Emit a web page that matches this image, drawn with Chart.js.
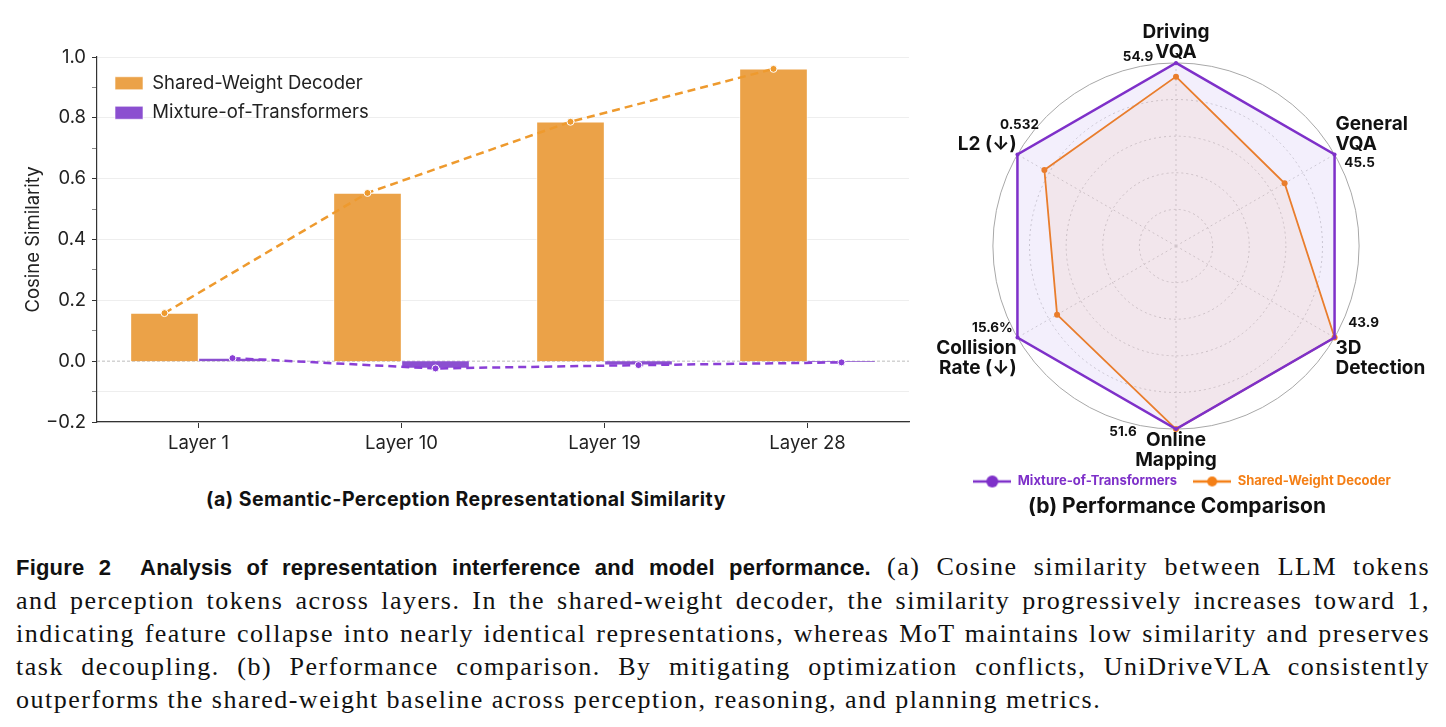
<!DOCTYPE html>
<html>
<head>
<meta charset="utf-8">
<script src="https://cdn.jsdelivr.net/npm/chart.js@4.4.0/dist/chart.umd.min.js"></script>
<style>
body { margin:0; background:#fff; width:1446px; height:727px; overflow:hidden; position:relative; font-family: Inter, sans-serif; color:#111; }
#barBox { position:absolute; left:0; top:0; }
#radarBox { position:absolute; left:927px; top:22px; }
.sub { position:absolute; font-weight:bold; white-space:nowrap; transform:translate(-50%, -50%); }
#caption { position:absolute; left:16px; top:550px; width:1414px; font-family:"Liberation Serif", serif; font-size:26px; letter-spacing:1.5px; line-height:33px; }
#caption div { text-align:justify; text-align-last:justify; white-space:nowrap; }
#caption div.last { text-align-last:left; }
#caption b { font-family:"Liberation Sans", sans-serif; font-size:22px; letter-spacing:0.2px; }
</style>
</head>
<body>
<div id="barBox"><canvas id="barChart" width="930" height="470"></canvas></div>
<div id="radarBox"><canvas id="radarChart" width="510" height="487"></canvas></div>
<div class="sub" style="left:466px; top:499px; font-size:19.5px; letter-spacing:0.5px;">(a) Semantic-Perception Representational Similarity</div>
<div class="sub" style="left:1177px; top:505px; font-size:21px;">(b) Performance Comparison</div>
<div id="caption">
<div><b>Figure 2&nbsp;&nbsp;Analysis of representation interference and model performance.</b> (a) Cosine similarity between LLM tokens</div>
<div>and perception tokens across layers. In the shared-weight decoder, the similarity progressively increases toward 1,</div>
<div>indicating feature collapse into nearly identical representations, whereas MoT maintains low similarity and preserves</div>
<div>task decoupling. (b) Performance comparison. By mitigating optimization conflicts, UniDriveVLA consistently</div>
<div class="last">outperforms the shared-weight baseline across perception, reasoning, and planning metrics.</div>
</div>
<script>
// ---- (a) cosine similarity per layer ----
var layerLabels = ['Layer 1', 'Layer 10', 'Layer 19', 'Layer 28'];
var sharedWeightSim = [0.158, 0.553, 0.787, 0.961];
var motSim = [0.010, -0.024, -0.013, -0.004];
var yMin = -0.2;
var yMax = 1.0;

// ---- (b) normalised radar scores ----
var radarAxes = [['Driving', 'VQA'], ['General', 'VQA'], ['3D', 'Detection'], ['Online', 'Mapping'], ['Collision', 'Rate (\u2193)'], 'L2 (\u2193)'];
var radarValueLabels = ['54.9', '45.5', '43.9', '51.6', '15.6%', '0.532'];
var motScore = [1, 1, 1, 1, 1, 1];
var sharedScore = [0.925, 0.685, 1.0, 1.0, 0.75, 0.83];

var orange = '#EBA248';
var orangeLine = '#EE9A2E';
var purple = '#8B4FD0';
var purpleLine = '#8A3FD6';
var chartFont = 'Inter, sans-serif';
var tickFont = { family: chartFont, size: 18.5 };

var groupPct = 0.67;
var barShift = groupPct / 4;   // centre of each bar inside its layer group, in layer units

// place a series at its slot inside each layer group
function shiftPoints(values, shift) {
    var pts = [];
    for (var i = 0; i < values.length; i++) {
        pts.push({x: i + shift, y: values[i]});
    }
    return pts;
}

var zeroLinePlugin = {
    id: 'zeroLine',
    beforeDatasetsDraw: function(chart) {
        var ctx = chart.ctx;
        var area = chart.chartArea;
        var y = chart.scales.y.getPixelForValue(0);
        ctx.save();
        ctx.strokeStyle = '#bdbdbd';
        ctx.lineWidth = 1;
        ctx.setLineDash([3, 2]);
        ctx.beginPath();
        ctx.moveTo(area.left, y);
        ctx.lineTo(area.right, y);
        ctx.stroke();
        ctx.restore();
    }
};

// put the legend inside the top-left corner of the plot
var legendInside = {
    id: 'legendInside',
    afterLayout: function(chart) {
        chart.legend.left = chart.chartArea.left + 7;
        chart.legend.top = chart.chartArea.top + 6;
    }
};

function isMajor(v) {
    return Math.abs(Math.round(v * 10) % 2) === 0;
}

function barSet(label, values, shift, color) {
    return {
        label: label,
        data: shiftPoints(values, shift),
        xAxisID: 'xl',
        grouped: false,
        backgroundColor: color,
        borderColor: 'rgba(255,255,255,0.6)',
        borderWidth: 1,
        categoryPercentage: 1.0,
        barPercentage: 1.0,
        order: 2
    };
}

function trendSet(label, values, shift, color) {
    return {
        type: 'line',
        label: label,
        data: shiftPoints(values, shift),
        xAxisID: 'xl',
        borderColor: color,
        borderWidth: 2.5,
        borderDash: [8, 5],
        pointRadius: 3.5,
        pointBackgroundColor: color,
        pointBorderColor: '#fff',
        pointBorderWidth: 1,
        fill: false,
        order: 1
    };
}

new Chart(document.getElementById('barChart'), {
    type: 'bar',
    data: {
        labels: layerLabels,
        datasets: [
            barSet('Shared-Weight Decoder', sharedWeightSim, -barShift, orange),
            barSet('Mixture-of-Transformers', motSim, barShift, purple),
            trendSet('sw-trend', sharedWeightSim, -barShift, orangeLine),
            trendSet('mot-trend', motSim, barShift, purpleLine)
        ]
    },
    options: {
        responsive: false,
        animation: false,
        layout: { padding: { left: 0, top: 57, right: 21, bottom: 0 } },
        plugins: {
            legend: {
                position: 'chartArea',
                align: 'start',
                labels: {
                    boxWidth: 28,
                    boxHeight: 13,
                    padding: 11,
                    color: '#222',
                    font: { family: chartFont, size: 18.5 },
                    filter: function(item) { return item.datasetIndex < 2; }
                }
            },
            tooltip: { enabled: false }
        },
        scales: {
            x: {
                type: 'category',
                offset: true,
                grid: { offset: false, drawOnChartArea: false, tickLength: 6, tickColor: '#333' },
                border: { color: '#333', width: 1.2 },
                ticks: { color: '#222', font: tickFont, padding: 4 },
                afterFit: function(scale) { scale.height = 48; }
            },
            xl: {
                type: 'linear',
                display: false,
                offset: false,
                min: -0.5,
                max: layerLabels.length - 0.5
            },
            y: {
                min: yMin,
                max: yMax,
                ticks: {
                    stepSize: 0.1,
                    color: '#222',
                    font: tickFont,
                    padding: 6,
                    autoSkip: false,
                    callback: function(v) {
                        if (!isMajor(v)) return '';
                        var r = Math.round(v * 10) / 10;
                        if (r === 0) return '0.0';
                        return r.toFixed(1).replace('-', '\u2212');
                    }
                },
                grid: {
                    color: function(c) {
                        var v = Math.round(c.tick.value * 10) / 10;
                        if (v === 0) return 'rgba(0,0,0,0)';
                        if (isMajor(v) || v === -0.1) return '#eeeeee';
                        return 'rgba(0,0,0,0)';
                    },
                    tickColor: function(c) {
                        return isMajor(c.tick.value) ? '#333' : '#888';
                    },
                    tickLength: 5
                },
                border: { color: '#333', width: 1.2 },
                title: {
                    display: true,
                    text: 'Cosine Similarity',
                    color: '#222',
                    font: { family: chartFont, size: 18.5 },
                    padding: { top: 22, bottom: 0 }
                },
                afterFit: function(scale) { scale.width = 97; }
            }
        }
    },
    plugins: [zeroLinePlugin, legendInside]
});

// ---------- radar ----------
function legendMarker(color, dot) {
    var c = document.createElement('canvas');
    c.width = 38;
    c.height = 14;
    var g = c.getContext('2d');
    g.strokeStyle = color;
    g.lineWidth = 2.5;
    g.beginPath();
    g.moveTo(0, 7);
    g.lineTo(38, 7);
    g.stroke();
    g.fillStyle = color;
    g.beginPath();
    g.arc(19, 7, dot, 0, Math.PI * 2);
    g.fill();
    return c;
}

var radarValuePlugin = {
    id: 'radarValues',
    afterDatasetsDraw: function(chart) {
        var scale = chart.scales.r;
        var ctx = chart.ctx;
        var offsets = [[-38, -6], [25, 8], [29, -15], [-53, 3], [-25, -10], [2, -30]];
        ctx.save();
        ctx.font = 'bold 13.5px ' + chartFont;
        ctx.fillStyle = '#111';
        ctx.textAlign = 'center';
        ctx.textBaseline = 'middle';
        for (var i = 0; i < radarValueLabels.length; i++) {
            var p = scale.getPointPosition(i, scale.drawingArea);
            ctx.fillText(radarValueLabels[i], p.x + offsets[i][0], p.y + offsets[i][1]);
        }
        ctx.restore();
    }
};

// legend sits a bit closer to the plot than the default layout allows
var radarLegendUp = {
    id: 'radarLegendUp',
    afterLayout: function(chart) {
        chart.legend.top -= 11;
        chart.legend.bottom -= 11;
    }
};

var radarPurple = '#7E30C9';
var radarOrange = '#F47F16';

new Chart(document.getElementById('radarChart'), {
    type: 'radar',
    data: {
        labels: radarAxes,
        datasets: [
            {
                label: 'Mixture-of-Transformers',
                data: motScore,
                borderColor: radarPurple,
                backgroundColor: 'rgba(150,110,225,0.11)',
                borderWidth: 2.5,
                pointRadius: 2,
                pointBackgroundColor: radarPurple,
                pointBorderWidth: 0,
                fill: true
            },
            {
                label: 'Shared-Weight Decoder',
                data: sharedScore,
                borderColor: radarOrange,
                backgroundColor: 'rgba(244,127,22,0.08)',
                borderWidth: 1.8,
                pointRadius: 3,
                pointBackgroundColor: radarOrange,
                pointBorderWidth: 0,
                fill: true
            }
        ]
    },
    options: {
        responsive: false,
        animation: false,
        layout: { padding: 0 },
        plugins: {
            legend: {
                position: 'bottom',
                labels: {
                    usePointStyle: true,
                    pointStyleWidth: 38,
                    padding: 16,
                    font: { family: chartFont, size: 13, weight: 'bold' },
                    generateLabels: function(chart) {
                        return [
                            { text: 'Mixture-of-Transformers', fontColor: radarPurple, pointStyle: legendMarker(radarPurple, 6), datasetIndex: 0, hidden: false },
                            { text: 'Shared-Weight Decoder', fontColor: radarOrange, pointStyle: legendMarker(radarOrange, 5), datasetIndex: 1, hidden: false }
                        ];
                    }
                }
            },
            tooltip: { enabled: false }
        },
        scales: {
            r: {
                min: 0,
                max: 1,
                ticks: { display: false, stepSize: 0.2 },
                grid: {
                    circular: true,
                    color: function(c) { return c.tick.value >= 1 ? '#a8a8a8' : '#cfcfcf'; },
                    lineWidth: 1
                },
                border: {
                    dash: function(c) { return c.tick.value >= 1 ? [] : [2, 3]; }
                },
                angleLines: { color: '#d3d3d3', borderDash: [2, 3], lineWidth: 1 },
                pointLabels: {
                    color: '#111',
                    padding: 1,
                    font: { family: chartFont, size: 19, weight: 'bold', lineHeight: 1.05 }
                }
            }
        }
    },
    plugins: [radarValuePlugin, radarLegendUp]
});
</script>
</body>
</html>
